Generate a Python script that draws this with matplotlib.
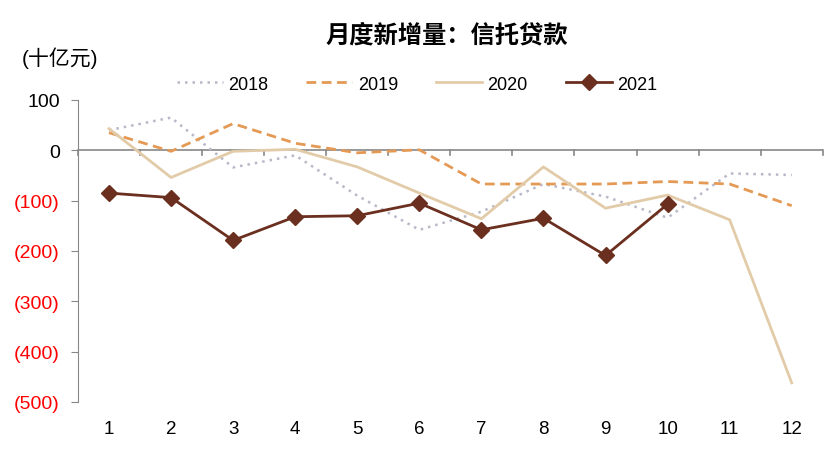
import matplotlib
matplotlib.use('Agg')
import matplotlib.pyplot as plt
import numpy as np

plt.rcParams['font.family'] = ['Liberation Sans', 'Noto Sans CJK SC', 'DejaVu Sans']

months = [1, 2, 3, 4, 5, 6, 7, 8, 9, 10, 11, 12]
y2018 = [40, 65, -34, -10, -90, -158, -122, -67, -92, -134, -46, -49]
y2019 = [35, -2, 53, 14, -5, 1, -67, -67, -67, -62, -67, -110]
y2020 = [43, -54, -2, 2, -33, -85, -136, -33, -115, -89, -138, -462]
y2021 = [-85, -94, -179, -132, -130, -105, -158, -135, -209, -107]
yticks = [100, 0, -100, -200, -300, -400, -500]

fig = plt.figure(figsize=(8.34, 4.6), dpi=100)
ax = fig.add_axes([0.0935, 0.124, 0.893, 0.6565])

l1, = ax.plot(months, y2018, color='#b8b8c8', lw=1.8, ls=(0, (1, 2)), label='2018')
l2, = ax.plot(months, y2019, color='#e49a55', lw=2.0, ls=(0, (3.5, 2)), label='2019')
l3, = ax.plot(months, y2020, color='#e2cba8', lw=2.0, label='2020')
l4, = ax.plot(months[:len(y2021)], y2021, color='#6b2f1f', lw=2.0, marker='D',
              markersize=8, label='2021')

ax.set_xlim(0.5, 12.5)
ax.set_ylim(-500, 100)
ax.set_yticks(yticks)
labels = []
for v in yticks:
    if v < 0:
        labels.append('(%d)' % (-v))
    else:
        labels.append('%d' % v)
ax.set_yticklabels(labels, fontsize=14)

for s in ['top', 'right', 'bottom']:
    ax.spines[s].set_visible(False)
ax.spines['left'].set_color('#888888')
ax.tick_params(axis='y', color='#888888', length=5, pad=8)
for t, v in zip(ax.get_yticklabels(), yticks):
    t.set_color('red' if v < 0 else 'black')

# x axis drawn at zero, ticks between categories
ax.axhline(0, color='#888888', lw=1.2, zorder=1)
ax.set_xticks(months)
ax.set_xticklabels([str(m) for m in months], fontsize=13.5)
ax.tick_params(axis='x', length=0, pad=13)
for b in np.arange(0.5, 13, 1):
    ax.plot([b, b], [0, -9], color='#888888', lw=1.2, zorder=1, clip_on=False)

fig.text(0.536, 0.924, '月度新增量：信托贷款', ha='center', va='center',
         fontsize=17.5, fontweight='bold', family=['Noto Sans CJK SC', 'DejaVu Sans'])
fig.text(0.026, 0.874, '(十亿元)', ha='left', va='center', fontsize=15)

fig.legend(handles=[l1, l2, l3, l4], loc='center', bbox_to_anchor=(0.5, 0.815),
           ncol=4, frameon=False, fontsize=13, handlelength=2.55, columnspacing=2.1,
           handletextpad=0.3)

fig.savefig('out.png', dpi=100)
